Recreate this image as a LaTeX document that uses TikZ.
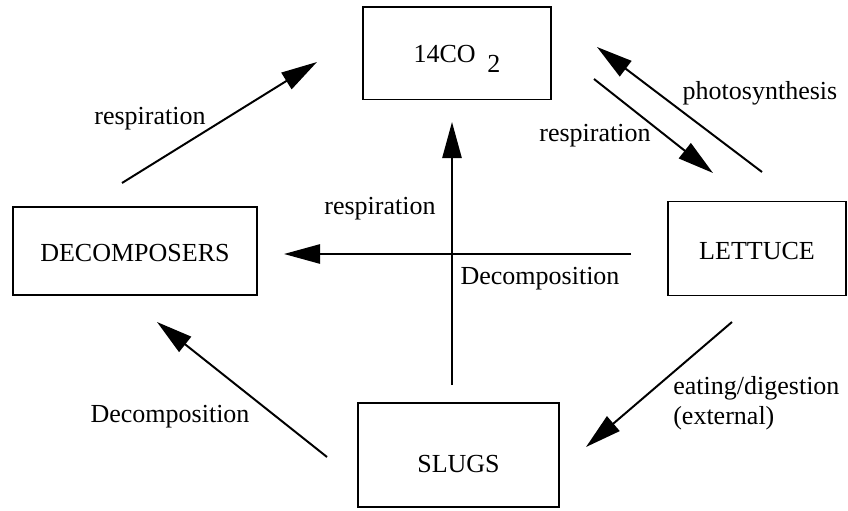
\documentclass[tikz,border=0pt]{standalone}
\usepackage{fontspec}
\setmainfont{Liberation Serif}
\usetikzlibrary{arrows.meta,positioning,calc}

\begin{document}
\begin{tikzpicture}[
    x=0.025cm, y=-0.025cm,
    >={Triangle[length=0.9cm, width=0.48cm]},
    font=\fontsize{18.5}{21.3}\selectfont,
    pool/.style={draw, rectangle, line width=1.4pt, inner sep=0pt},
    flow/.style={->, line width=1.4pt},
    lbl/.style={anchor=base, inner sep=0pt}
]
    \useasboundingbox (0,0) rectangle (848,511);

    % --- Pools ---
    \node[pool, minimum width=4.7cm, minimum height=2.3cm, text depth=0pt] (co2) at (457,53.5) {14CO\hspace{0.45em}\raisebox{-0.25cm}{2}};
    \node[pool, minimum width=6.12cm, minimum height=2.22cm, text height=0.5cm, text depth=0pt] (decomp) at (135,251) {DECOMPOSERS};
    \node[pool, minimum width=4.43cm, minimum height=2.35cm, text height=0.55cm, text depth=0pt] (lettuce) at (757,248.5) {LETTUCE};
    \node[pool, minimum width=5cm, minimum height=2.62cm, text height=0.89cm, text depth=0pt] (slugs) at (458.5,455) {SLUGS};

    % --- Arrow ends ---
    \coordinate (decompOut) at (122,183);
    \coordinate (co2InL) at (317,62);
    \coordinate (co2Out) at (594,79);
    \coordinate (lettuceIn) at (713,173);
    \coordinate (lettuceUp) at (762,172);
    \coordinate (co2InR) at (597,47);
    \coordinate (lettuceW) at (631,254);
    \coordinate (decompE) at (284,254);
    \coordinate (slugsUp) at (452,385);
    \coordinate (co2InB) at (452,122);
    \coordinate (slugsW) at (327,457);
    \coordinate (decompS) at (157,322);
    \coordinate (lettuceS) at (732,322);
    \coordinate (slugsIn) at (586,447);

    % --- Flows ---
    \draw[flow] (decompOut) -- (co2InL);
    \draw[flow] (co2Out) -- (lettuceIn);
    \draw[flow] (lettuceUp) -- (co2InR);
    \draw[flow] (lettuceW) -- (decompE);
    \draw[flow] (slugsUp) -- (co2InB);
    \draw[flow] (slugsW) -- (decompS);
    \draw[flow] (lettuceS) -- (slugsIn);

    % --- Labels ---
    \node[lbl] (resp1) at (150,125) {respiration};
    \node[lbl] (resp2) at (595,142) {respiration};
    \node[lbl] (photo) at (760,100) {photosynthesis};
    \node[lbl] (resp3) at (380,215) {respiration};
    \node[lbl] (decomp1) at (540,285) {Decomposition};
    \node[lbl] (decomp2) at (170,422) {Decomposition};
    \node[anchor=west, inner sep=0pt, align=left] (eat) at (673,403) {eating/digestion\\(external)};

\end{tikzpicture}
\end{document}
